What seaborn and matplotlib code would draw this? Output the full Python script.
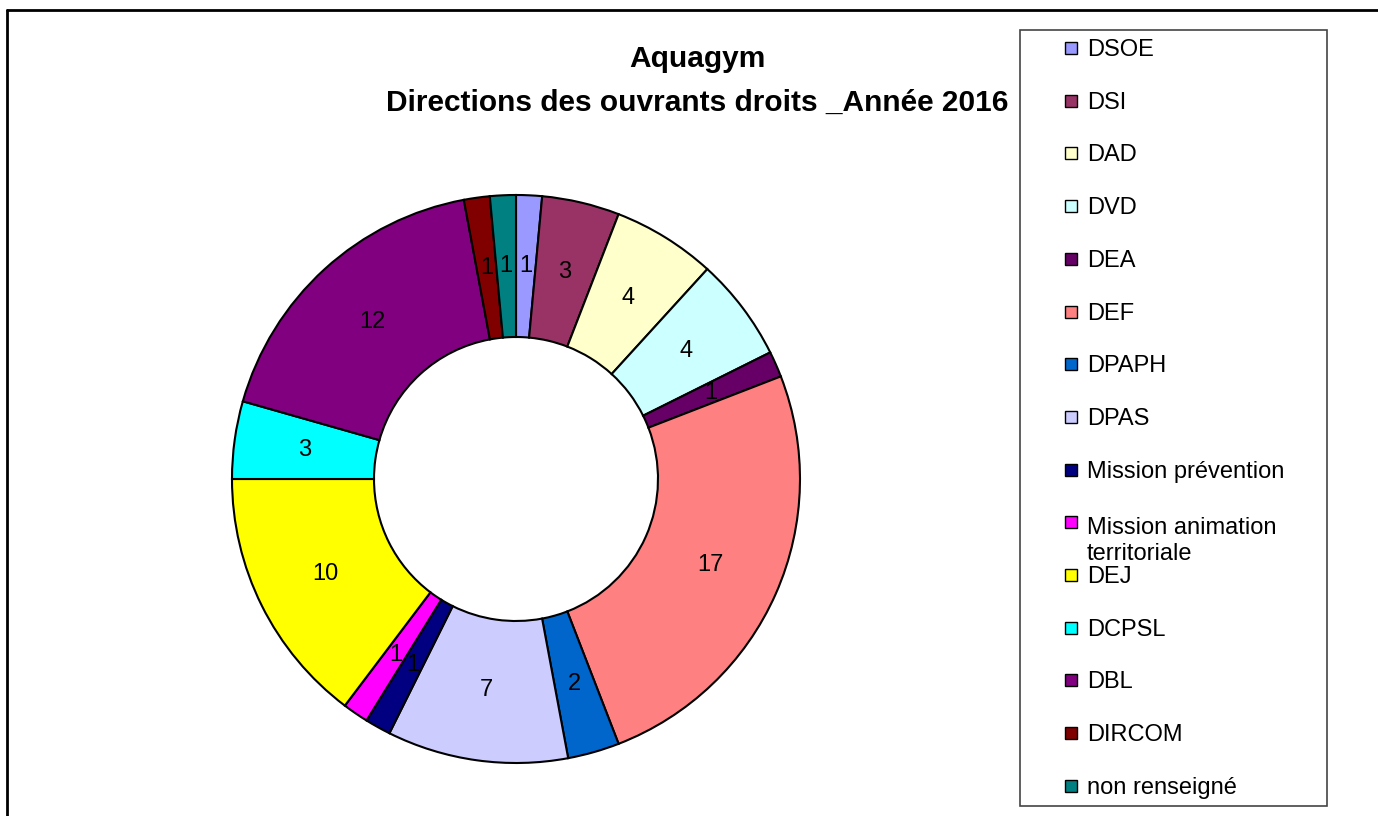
import matplotlib
matplotlib.use("Agg")
import matplotlib.pyplot as plt
import seaborn as sns
from matplotlib.patches import Rectangle
from matplotlib.lines import Line2D

sns.set_theme(style="white")
plt.rcParams['font.family'] = ['Liberation Sans', 'DejaVu Sans']
plt.rcParams['text.color'] = 'black'

categories = ["DSOE", "DSI", "DAD", "DVD", "DEA", "DEF", "DPAPH", "DPAS",
              "Mission prévention", "Mission animation\nterritoriale", "DEJ",
              "DCPSL", "DBL", "DIRCOM", "non renseigné"]
values = [1, 3, 4, 4, 1, 17, 2, 7, 1, 1, 10, 3, 12, 1, 1]
colors = ["#9999FF", "#993366", "#FFFFCC", "#CCFFFF", "#660066", "#FF8080",
          "#0066CC", "#CCCCFF", "#000080", "#FF00FF", "#FFFF00", "#00FFFF",
          "#800080", "#800000", "#008080"]
title_line1 = "Aquagym"
title_line2 = "Directions des ouvrants droits _Année 2016"

W, H = 1378, 816
fig = plt.figure(figsize=(W / 100, H / 100), dpi=100)
fig.patch.set_facecolor("white")

# pie axes
cx, cy, R = 516, 479, 284
half = 300
ax = fig.add_axes([(cx - half) / W, (H - cy - half) / H, 2 * half / W, 2 * half / H])
total = sum(values)
wedges, texts, autotexts = ax.pie(
    values, colors=colors, startangle=90, counterclock=False, radius=1.0,
    wedgeprops=dict(width=0.5, edgecolor="black", linewidth=1.5),
    autopct=lambda p: f"{round(p * total / 100)}", pctdistance=0.75,
    textprops=dict(fontsize=17, color="black"))
ax.set_xlim(-half / R, half / R)
ax.set_ylim(-half / R, half / R)
ax.set_aspect("equal")
ax.axis("off")

# titles
fig.text(697 / W, 1 - 59 / H, title_line1, ha="center", va="center",
         fontsize=21.5, fontweight="bold", color="black")
fig.text(697 / W, 1 - 103 / H, title_line2, ha="center", va="center",
         fontsize=21.5, fontweight="bold", color="black")

# legend box
lx0, ly0, lx1, ly1 = 1020, 30, 1327, 806
fig.patches.append(Rectangle((lx0 / W, 1 - ly1 / H), (lx1 - lx0) / W, (ly1 - ly0) / H,
                             transform=fig.transFigure, facecolor="white",
                             edgecolor="#444444", linewidth=1.2, zorder=1))
slot0, step, line_h = 48, 52.7, 30
for i, (lab, col) in enumerate(zip(categories, colors)):
    y = slot0 + i * step
    n_lines = lab.count("\n") + 1
    fig.patches.append(Rectangle((1065 / W, 1 - (y + 6) / H), 12 / W, 12 / H,
                                 transform=fig.transFigure, facecolor=col,
                                 edgecolor="black", linewidth=1.0, zorder=2))
    fig.text(1087 / W, 1 - (y + 8 + (n_lines - 1) * line_h) / H, lab, ha="left",
             va="baseline", fontsize=17, linespacing=1.27, color="black", zorder=3)

# outer frame (top and left visible)
fig.add_artist(Line2D([7 / W, 7 / W], [0, 1 - 10 / H], transform=fig.transFigure,
                      color="black", linewidth=2))
fig.add_artist(Line2D([7 / W, 1], [1 - 10 / H, 1 - 10 / H], transform=fig.transFigure,
                      color="black", linewidth=2))

fig.savefig("out.png", dpi=100)
